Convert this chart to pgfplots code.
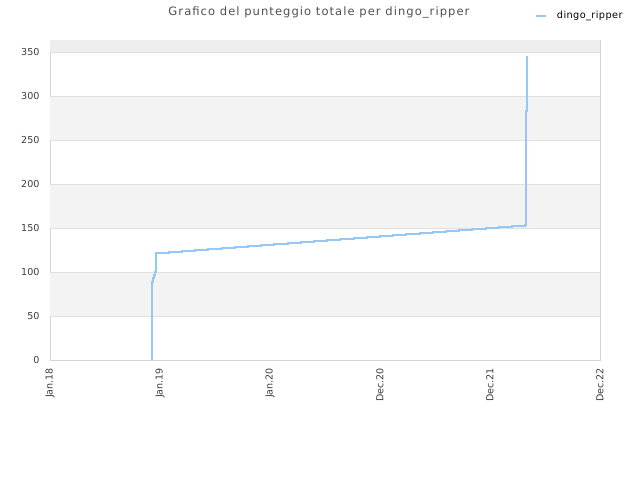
\documentclass[border=0pt]{standalone}
\usepackage{fontspec}
\setmainfont{DejaVu Sans}
\newfontfamily\titlefont[LetterSpace=9]{DejaVu Sans}
\newfontfamily\legendfont[LetterSpace=4]{DejaVu Sans}
\usepackage{pgfplots}
\pgfplotsset{compat=1.18}
\definecolor{lineblue}{RGB}{150,200,245}
\definecolor{bandgray}{RGB}{243,243,243}
\definecolor{topgray}{RGB}{238,238,238}
\definecolor{gridgray}{RGB}{224,224,224}
\definecolor{framegray}{RGB}{212,212,212}
\definecolor{labelgray}{RGB}{60,60,60}
\definecolor{titlegray}{RGB}{80,80,80}
\begin{document}
\begin{tikzpicture}
\path[use as bounding box] (0bp,0bp) rectangle (640bp,480bp);
\begin{axis}[
  at={(50bp,120bp)}, anchor=south west,
  scale only axis, width=550bp, height=320bp,
  xmin=0, xmax=5, ymin=0, ymax=364,
  xtick={0,1,2,3,4,5},
  xticklabels={Jan.18,Jan.19,Jan.20,Dec.20,Dec.21,Dec.22},
  ytick={0,50,100,150,200,250,300,350},
  major tick length=0pt,
  ymajorgrids, grid style={gridgray, line width=0.8bp},
  axis line style={framegray, line width=0.8bp},
  tick label style={font=\fontsize{9.6}{11}\selectfont, text=labelgray},
  x tick label style={rotate=90, anchor=east, xshift=-4.5bp},
  y tick label style={xshift=-7bp},
  /pgf/number format/assume math mode=true,
  title={Grafico del punteggio totale per dingo\_ripper},
  title style={at={(0.489,1.066)}, anchor=center, font=\titlefont\fontsize{11.6}{13}\selectfont, text=titlegray},
  legend style={at={(1.045,1.075)}, anchor=east, draw=none, fill=none,
    font=\legendfont\fontsize{9.8}{11}\selectfont, inner sep=0pt},
  legend image code/.code={\draw[#1, line width=2bp] (0,0) -- (10bp,0); \path (18bp,0);},
]
\addplot[draw=none, fill=bandgray, forget plot] coordinates {(0,50.6) (5,50.6) (5,99.4) (0,99.4)} -- cycle;
\addplot[draw=none, fill=bandgray, forget plot] coordinates {(0,150.6) (5,150.6) (5,199.4) (0,199.4)} -- cycle;
\addplot[draw=none, fill=bandgray, forget plot] coordinates {(0,250.6) (5,250.6) (5,299.4) (0,299.4)} -- cycle;
\addplot[draw=none, fill=topgray, forget plot] coordinates {(0,350.6) (5,350.6) (5,364) (0,364)} -- cycle;
\addplot[const plot, lineblue, line width=2bp] coordinates {
(0.925,0) (0.925,89) (0.934,93) (0.943,97) (0.952,100) (0.961,103)
(0.964,103) (0.964,122)
(1.08,123.1) (1.20,124.2) (1.32,125.3) (1.44,126.5) (1.56,127.6)
(1.68,128.7) (1.80,129.8) (1.92,131.0) (2.04,132.1) (2.16,133.2)
(2.28,134.3) (2.40,135.5) (2.52,136.6) (2.64,137.7) (2.76,138.8)
(2.88,140.0) (3.00,141.1) (3.12,142.2) (3.24,143.3) (3.36,144.5)
(3.48,145.6) (3.60,146.7) (3.72,147.9) (3.84,149.0) (3.96,150.1)
(4.08,151.2) (4.20,152.4) (4.32,153.5) (4.324,154)
(4.324,283) (4.336,283) (4.336,346)
};
\addlegendentry{dingo\_ripper}
\end{axis}
\end{tikzpicture}
\end{document}
